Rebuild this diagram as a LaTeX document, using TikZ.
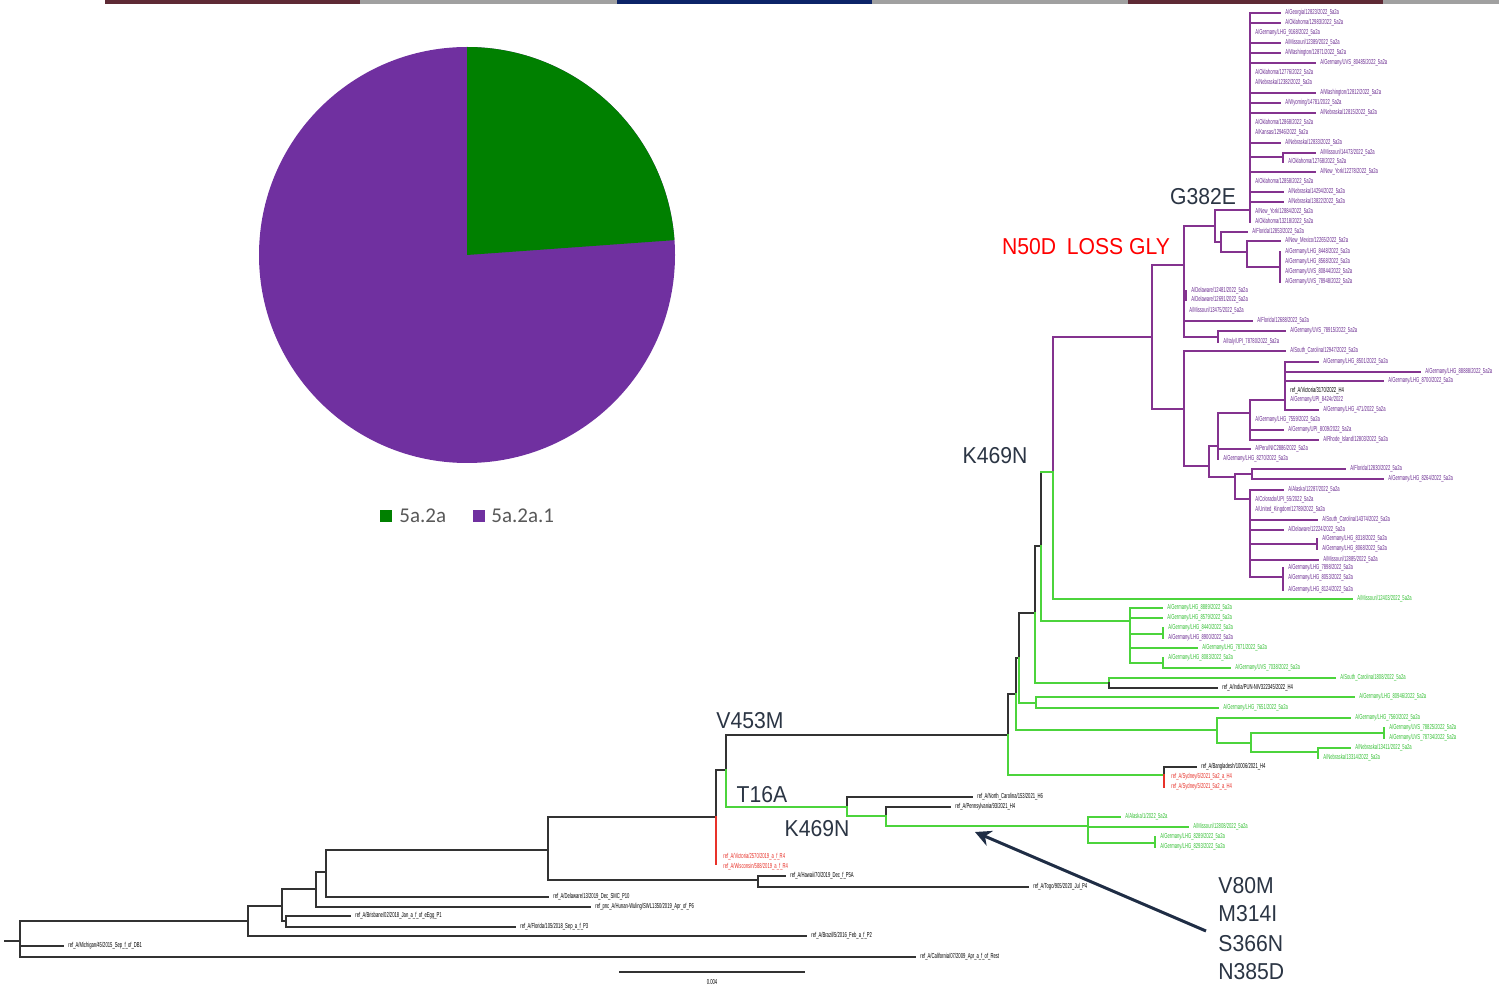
\documentclass[tikz,border=0pt]{standalone}
\usepackage{fontspec}
\usepackage{graphicx}
\setmainfont{Liberation Sans}
\newfontfamily\legfont{Carlito}
\usetikzlibrary{arrows.meta}
\definecolor{cP}{HTML}{84338F}
\definecolor{cPt}{HTML}{6B2C91}
\definecolor{cG}{HTML}{4CD43C}
\definecolor{cGt}{HTML}{34C034}
\definecolor{cB}{HTML}{333333}
\definecolor{cR}{HTML}{E8322A}
\definecolor{pieG}{HTML}{008000}
\definecolor{pieP}{HTML}{7030A0}
\definecolor{mut}{HTML}{2B3544}
\definecolor{legtxt}{HTML}{595959}
\definecolor{barM}{HTML}{5E2A35}
\definecolor{barG}{HTML}{A0A0A0}
\definecolor{barN}{HTML}{0C2468}
\definecolor{arr}{HTML}{1F2D45}
\tikzset{
 lnP/.style={draw=cP, line width=1.15pt, line cap=rect},
 lnG/.style={draw=cG, line width=1.15pt, line cap=rect},
 lnB/.style={draw=cB, line width=1.1pt, line cap=rect},
 lnR/.style={draw=cR, line width=1.1pt, line cap=rect},
 tinyf/.style={font=\fontsize{3.6}{3.9}\selectfont, inner sep=0pt, anchor=west},
 txP/.style={tinyf, text=cPt},
 txG/.style={tinyf, text=cGt},
 txB/.style={tinyf, text=black},
 txR/.style={tinyf, text=cR},
 mutlab/.style={font=\fontsize{11.5}{12}\selectfont, text=mut, inner sep=0pt},
}
\newcommand{\sq}[1]{\scalebox{0.58}[1]{#1}}
\newcommand{\mq}[1]{\scalebox{0.92}[1]{#1}}
\newcommand{\leaf}[5]{\draw[ln#1] (#2,#4) -- (#3,#4); \node[tx#1] at ({#3+5},#4) {\sq{#5}};}
\newcommand{\lab}[4]{\node[tx#1] at ({#2+5},#3) {\sq{#4}};}
\begin{document}
\begin{tikzpicture}[x=0.5pt,y=-0.5pt]
\fill[white] (0,0) rectangle (1499,994);
\useasboundingbox (0,0) rectangle (1499,994);
% top bar
\fill[barM] (105,0) rectangle (360,4);
\fill[barG] (360,0) rectangle (617,4);
\fill[barN] (617,0) rectangle (872,4);
\fill[barG] (872,0) rectangle (1128,4);
\fill[barM] (1128,0) rectangle (1383,4);
\fill[barG] (1383,0) rectangle (1499,4);
% pie
\coordinate (pc) at (467,255);
\fill[pieP] (pc) circle[radius=208];
\fill[pieG] (pc) -- (467,47) arc[start angle=-90, end angle=-4.1, radius=208] -- cycle;
% legend
\fill[pieG] (380,510) rectangle (392,522);
\node[anchor=west, inner sep=0pt, text=legtxt, font=\legfont\fontsize{10.5}{12}\selectfont] (lg1) at (399,516) {5a.2a};
\fill[pieP] (473,510) rectangle (485,522);
\node[anchor=west, inner sep=0pt, text=legtxt, font=\legfont\fontsize{10.5}{12}\selectfont] (lg2) at (491,516) {5a.2a.1};

% ===== tree: basal part =====
\draw[lnB] (5,941) -- (20,941);
\draw[lnB] (20,921) -- (20,957);
\leaf{B}{20}{63}{946}{ref\_A/Michigan/45/2015\_Sep\_f\_of\_DB1}
\leaf{B}{20}{915}{957}{ref\_A/California/07/2009\_Apr\_a\_f\_of\_Rest}
\draw[lnB] (20,921) -- (248,921);
\draw[lnB] (248,906) -- (248,936);
\leaf{B}{248}{806}{936}{ref\_A/Brazil/5/2016\_Feb\_a\_f\_P2}
\draw[lnB] (248,906) -- (282,906);
\draw[lnB] (282,889) -- (282,921) -- (286,921);
\draw[lnB] (286,916) -- (286,927);
\leaf{B}{286}{350}{916}{ref\_A/Brisbane/02/2018\_Jan\_a\_f\_of\_eEgg\_P1}
\leaf{B}{286}{515}{927}{ref\_A/Florida/105/2018\_Sep\_a\_f\_P3}
\draw[lnB] (282,889) -- (316,889);
\draw[lnB] (316,872) -- (316,907);
\leaf{B}{316}{590}{907}{ref\_pnc\_A/Hunan-Wuling/SWL1350/2019\_Apr\_of\_P6}
\draw[lnB] (316,872) -- (326,872);
\draw[lnB] (326,850) -- (326,897);
\leaf{B}{326}{548}{897}{ref\_A/Delaware/13/2019\_Dec\_SMC\_P10}
\draw[lnB] (326,850) -- (548,850);
\draw[lnB] (548,817) -- (548,880);
\draw[lnB] (548,880) -- (758,880);
\draw[lnB] (758,876) -- (758,887);
\leaf{B}{758}{785}{876}{ref\_A/Hawaii/70/2019\_Dec\_f\_P5A}
\leaf{B}{758}{1028}{887}{ref\_A/Togo/905/2020\_Jul\_P4}
\draw[lnB] (548,817) -- (716,817);
\draw[lnB] (716,770) -- (716,817);
\draw[lnR] (716,817) -- (716,864);
\lab{R}{718}{857}{ref\_A/Victoria/2570/2019\_a\_f\_R4}
\lab{R}{718}{867}{ref\_A/Wisconsin/588/2019\_a\_f\_R4}
\draw[lnB] (716,770) -- (726,770);
\draw[lnB] (726,735) -- (726,770);
\draw[lnG] (726,770) -- (726,807);
\draw[lnB] (726,735) -- (1008,735);
% T16A clade
\draw[lnG] (726,807) -- (847,807);
\draw[lnB] (847,797) -- (847,807);
\draw[lnG] (847,807) -- (847,816);
\leaf{B}{847}{972}{797}{ref\_A/North\_Carolina/153/2021\_H6}
\draw[lnG] (847,816) -- (886,816);
\draw[lnB] (886,807) -- (886,816);
\draw[lnG] (886,816) -- (886,826);
\leaf{B}{886}{950}{807}{ref\_A/Pennsylvania/93/2021\_H4}
\draw[lnG] (886,826) -- (1088,826);
\draw[lnG] (1088,817) -- (1088,843);
\leaf{G}{1088}{1120}{817}{A/Alaska/1/2022\_5a2a}
\leaf{G}{1088}{1188}{827}{A/Missouri/12808/2022\_5a2a}
\draw[lnG] (1088,843) -- (1155,843);
\draw[lnG] (1155,837) -- (1155,847);
\lab{G}{1155}{837}{A/Germany/LHG\_8289/2022\_5a2a}
\lab{G}{1155}{847}{A/Germany/LHG\_8293/2022\_5a2a}

% ===== V453M clade =====
\draw[lnB] (1008,694) -- (1008,735);
\draw[lnG] (1008,735) -- (1008,775);
\draw[lnG] (1008,775) -- (1164,775);
\draw[lnB] (1164,767) -- (1164,775);
\draw[lnR] (1164,775) -- (1164,787);
\leaf{B}{1164}{1196}{767}{ref\_A/Bangladesh/10006/2021\_H4}
\lab{R}{1166}{777}{ref\_A/Sydney/6/2021\_5a2\_a\_H4}
\lab{R}{1166}{787}{ref\_A/Sydney/5/2021\_5a2\_a\_H4}
\draw[lnB] (1008,694) -- (1016,694);
\draw[lnB] (1016,658) -- (1016,694);
\draw[lnG] (1016,694) -- (1016,730);
\draw[lnG] (1016,730) -- (1217,730);
\draw[lnG] (1217,718) -- (1217,743);
\leaf{G}{1217}{1350}{718}{A/Germany/LHG\_7560/2022\_5a2a}
\draw[lnG] (1217,743) -- (1251,743);
\draw[lnG] (1251,733) -- (1251,752);
\draw[lnG] (1251,733) -- (1384,733);
\draw[lnG] (1384,728) -- (1384,738);
\lab{G}{1384}{728}{A/Germany/UVS\_78825/2022\_5a2a}
\lab{G}{1384}{738}{A/Germany/UVS\_78734/2022\_5a2a}
\draw[lnG] (1251,752) -- (1318,752);
\draw[lnG] (1318,748) -- (1318,758);
\leaf{G}{1318}{1350}{748}{A/Nebraska/13411/2022\_5a2a}
\lab{G}{1318}{758}{A/Nebraska/13314/2022\_5a2a}
\draw[lnB] (1016,658) -- (1019,658);
\draw[lnB] (1019,613) -- (1019,658);
\draw[lnG] (1019,658) -- (1019,703);
\draw[lnG] (1019,703) -- (1036,703);
\draw[lnG] (1036,697) -- (1036,708);
\leaf{G}{1036}{1354}{697}{A/Germany/LHG\_80946/2022\_5a2a}
\leaf{G}{1036}{1218}{708}{A/Germany/LHG\_7651/2022\_5a2a}
\draw[lnB] (1019,613) -- (1035,613);
\draw[lnB] (1035,546) -- (1035,613);
\draw[lnG] (1035,613) -- (1035,683);
\draw[lnG] (1035,683) -- (1109,683);
\draw[lnG] (1109,678) -- (1109,683);
\draw[lnB] (1109,683) -- (1109,688);
\leaf{G}{1109}{1335}{678}{A/South\_Carolina/1808/2022\_5a2a}
\leaf{B}{1109}{1217}{688}{ref\_A/India/PUN-NIV322345/2022\_H4}
\draw[lnB] (1035,546) -- (1041,546);
\draw[lnB] (1041,472) -- (1041,546);
\draw[lnG] (1041,546) -- (1041,621);
\draw[lnG] (1041,621) -- (1130,621);
\draw[lnG] (1130,608) -- (1130,663);
\leaf{G}{1130}{1162}{608}{A/Germany/LHG\_8889/2022\_5a2a}
\leaf{G}{1130}{1162}{618}{A/Germany/LHG\_8579/2022\_5a2a}
\draw[lnG] (1130,634) -- (1163,634);
\draw[lnG] (1163,628) -- (1163,638);
\lab{G}{1163}{628}{A/Germany/LHG\_8440/2022\_5a2a}
\lab{P}{1163}{638}{A/Germany/LHG\_8900/2022\_5a2a}
\leaf{G}{1130}{1197}{648}{A/Germany/LHG\_7871/2022\_5a2a}
\draw[lnG] (1130,663) -- (1163,663);
\draw[lnG] (1163,658) -- (1163,668);
\lab{G}{1163}{658}{A/Germany/LHG\_8083/2022\_5a2a}
\leaf{G}{1163}{1230}{668}{A/Germany/UVS\_7038/2022\_5a2a}
\draw[lnG] (1041,472) -- (1053,472);
\draw[lnP] (1053,337) -- (1053,472);
\draw[lnG] (1053,472) -- (1053,599);
\leaf{G}{1053}{1352}{599}{A/Missouri/12403/2022\_5a2a}

% ===== purple clade =====
\draw[lnP] (1053,337) -- (1152,337);
\draw[lnP] (1152,265) -- (1152,409);
\draw[lnP] (1152,265) -- (1184,265);
\draw[lnP] (1184,226) -- (1184,337);
\draw[lnP] (1184,226) -- (1215,226);
\draw[lnP] (1215,210) -- (1215,242);
\draw[lnP] (1215,210) -- (1250,210);
\draw[lnP] (1250,13) -- (1250,222);
\leaf{P}{1250}{1280}{13}{A/Georgia/12823/2022\_5a2a}
\leaf{P}{1250}{1280}{23}{A/Oklahoma/12983/2022\_5a2a}
\lab{P}{1250}{33}{A/Germany/LHG\_9168/2022\_5a2a}
\leaf{P}{1250}{1280}{43}{A/Missouri/12389/2022\_5a2a}
\leaf{P}{1250}{1280}{53}{A/Washington/12871/2022\_5a2a}
\leaf{P}{1250}{1315}{63}{A/Germany/UVS\_80485/2022\_5a2a}
\lab{P}{1250}{73}{A/Oklahoma/12776/2022\_5a2a}
\lab{P}{1250}{83}{A/Nebraska/12382/2022\_5a2a}
\leaf{P}{1250}{1315}{93}{A/Washington/12812/2022\_5a2a}
\leaf{P}{1250}{1280}{103}{A/Wyoming/14781/2022\_5a2a}
\leaf{P}{1250}{1315}{113}{A/Nebraska/12815/2022\_5a2a}
\lab{P}{1250}{123}{A/Oklahoma/12868/2022\_5a2a}
\lab{P}{1250}{133}{A/Kansas/12946/2022\_5a2a}
\leaf{P}{1250}{1280}{143}{A/Nebraska/12833/2022\_5a2a}
\draw[lnP] (1250,157) -- (1283,157);
\draw[lnP] (1283,153) -- (1283,162);
\leaf{P}{1283}{1315}{153}{A/Missouri/14473/2022\_5a2a}
\lab{P}{1283}{162}{A/Oklahoma/12768/2022\_5a2a}
\leaf{P}{1250}{1315}{172}{A/New\_York/12278/2022\_5a2a}
\lab{P}{1250}{182}{A/Oklahoma/12858/2022\_5a2a}
\leaf{P}{1250}{1283}{192}{A/Nebraska/14294/2022\_5a2a}
\leaf{P}{1250}{1283}{202}{A/Nebraska/13822/2022\_5a2a}
\lab{P}{1250}{212}{A/New\_York/12884/2022\_5a2a}
\lab{P}{1250}{222}{A/Oklahoma/13218/2022\_5a2a}
\draw[lnP] (1215,242) -- (1221,242);
\draw[lnP] (1221,232) -- (1221,252);
\leaf{P}{1221}{1247}{232}{A/Florida/12853/2022\_5a2a}
\draw[lnP] (1221,252) -- (1247,252);
\draw[lnP] (1247,241) -- (1247,267);
\leaf{P}{1247}{1280}{241}{A/New\_Mexico/12265/2022\_5a2a}
\draw[lnP] (1247,267) -- (1280,267);
\draw[lnP] (1280,252) -- (1280,282);
\lab{P}{1280}{252}{A/Germany/LHG\_8448/2022\_5a2a}
\lab{P}{1280}{262}{A/Germany/LHG\_8568/2022\_5a2a}
\lab{P}{1280}{272}{A/Germany/UVS\_80844/2022\_5a2a}
\lab{P}{1280}{282}{A/Germany/UVS\_78948/2022\_5a2a}
\draw[lnP] (1184,296) -- (1186,296);
\draw[lnP] (1186,291) -- (1186,300);
\lab{P}{1186}{291}{A/Delaware/12481/2022\_5a2a}
\lab{P}{1186}{300}{A/Delaware/12691/2022\_5a2a}
\lab{P}{1184}{311}{A/Missouri/13475/2022\_5a2a}
\leaf{P}{1184}{1252}{321}{A/Florida/12688/2022\_5a2a}
\draw[lnP] (1184,337) -- (1218,337);
\draw[lnP] (1218,331) -- (1218,342);
\leaf{P}{1218}{1285}{331}{A/Germany/UVS\_78915/2022\_5a2a}
\lab{P}{1218}{342}{A/Italy/UPI\_78780/2022\_5a2a}
% lower purple
\draw[lnP] (1152,409) -- (1184,409);
\draw[lnP] (1184,351) -- (1184,466);
\leaf{P}{1184}{1285}{351}{A/South\_Carolina/12947/2022\_5a2a}
\draw[lnP] (1184,466) -- (1209,466);
\draw[lnP] (1209,446) -- (1209,477);
\draw[lnP] (1209,446) -- (1218,446);
\draw[lnP] (1218,413) -- (1218,459);
\draw[lnP] (1218,413) -- (1250,413);
\draw[lnP] (1250,400) -- (1250,440);
\draw[lnP] (1250,400) -- (1285,400);
\draw[lnP] (1285,362) -- (1285,410);
\leaf{P}{1285}{1318}{362}{A/Germany/LHG\_8501/2022\_5a2a}
\leaf{P}{1285}{1420}{372}{A/Germany/LHG\_88888/2022\_5a2a}
\leaf{P}{1285}{1383}{381}{A/Germany/LHG\_8700/2022\_5a2a}
\lab{B}{1285}{391}{ref\_A/Victoria/3170/2022\_H4}
\lab{P}{1285}{400}{A/Germany/UPI\_8424r/2022}
\leaf{P}{1285}{1318}{410}{A/Germany/LHG\_471/2022\_5a2a}
\lab{P}{1250}{420}{A/Germany/LHG\_7559/2022\_5a2a}
\leaf{P}{1250}{1283}{430}{A/Germany/UPI\_8009/2022\_5a2a}
\leaf{P}{1250}{1318}{440}{A/Rhode\_Island/12803/2022\_5a2a}
\leaf{P}{1218}{1250}{449}{A/Peru/NIC2886/2022\_5a2a}
\lab{P}{1218}{459}{A/Germany/LHG\_8270/2022\_5a2a}
\draw[lnP] (1209,477) -- (1235,477);
\draw[lnP] (1235,474) -- (1235,499);
\draw[lnP] (1235,474) -- (1252,474);
\draw[lnP] (1252,469) -- (1252,479);
\leaf{P}{1252}{1345}{469}{A/Florida/12830/2022\_5a2a}
\leaf{P}{1252}{1383}{479}{A/Germany/LHG\_8264/2022\_5a2a}
\draw[lnP] (1235,499) -- (1250,499);
\draw[lnP] (1250,490) -- (1250,577);
\leaf{P}{1250}{1283}{490}{A/Alaska/12287/2022\_5a2a}
\lab{P}{1250}{500}{A/Colorado/UPI\_55/2022\_5a2a}
\lab{P}{1250}{510}{A/United\_Kingdom/12789/2022\_5a2a}
\leaf{P}{1250}{1317}{520}{A/South\_Carolina/14374/2022\_5a2a}
\leaf{P}{1250}{1283}{530}{A/Delaware/12224/2022\_5a2a}
\draw[lnP] (1250,544) -- (1317,544);
\draw[lnP] (1317,539) -- (1317,549);
\lab{P}{1317}{539}{A/Germany/LHG\_8318/2022\_5a2a}
\lab{P}{1317}{549}{A/Germany/LHG\_8068/2022\_5a2a}
\leaf{P}{1250}{1318}{560}{A/Missouri/12885/2022\_5a2a}
\draw[lnP] (1250,577) -- (1283,577);
\draw[lnP] (1283,568) -- (1283,590);
\lab{P}{1283}{568}{A/Germany/LHG\_7898/2022\_5a2a}
\lab{P}{1283}{578}{A/Germany/LHG\_8053/2022\_5a2a}
\lab{P}{1283}{590}{A/Germany/LHG\_8124/2022\_5a2a}

% scale bar
\draw[cB, line width=0.6pt] (619,972) -- (805,972);
\node[tinyf, anchor=center] (scl) at (712,982) {\sq{0.004}};

% mutation labels
\node[mutlab] (mG) at (1203,197) {\mq{G382E}};
\node[mutlab, text=red] (mN) at (1086,247) {\mq{N50D\,\,\,LOSS GLY}};
\node[mutlab] (mK1) at (995,456) {\mq{K469N}};
\node[mutlab] (mV) at (750,721) {\mq{V453M}};
\node[mutlab] (mT) at (762,795) {\mq{T16A}};
\node[mutlab] (mK2) at (817,829) {\mq{K469N}};
\node[mutlab, anchor=west] (m1) at (1218,886) {\mq{V80M}};
\node[mutlab, anchor=west] (m2) at (1218,914) {\mq{M314I}};
\node[mutlab, anchor=west] (m3) at (1218,944) {\mq{S366N}};
\node[mutlab, anchor=west] (m4) at (1218,972) {\mq{N385D}};
\coordinate (arS) at (1206,931);
\coordinate (arE) at (975,832);
\draw[arr, line width=1.5pt, -{Stealth[length=8pt,width=8pt]}] (arS) -- (arE);
\end{tikzpicture}
\end{document}
